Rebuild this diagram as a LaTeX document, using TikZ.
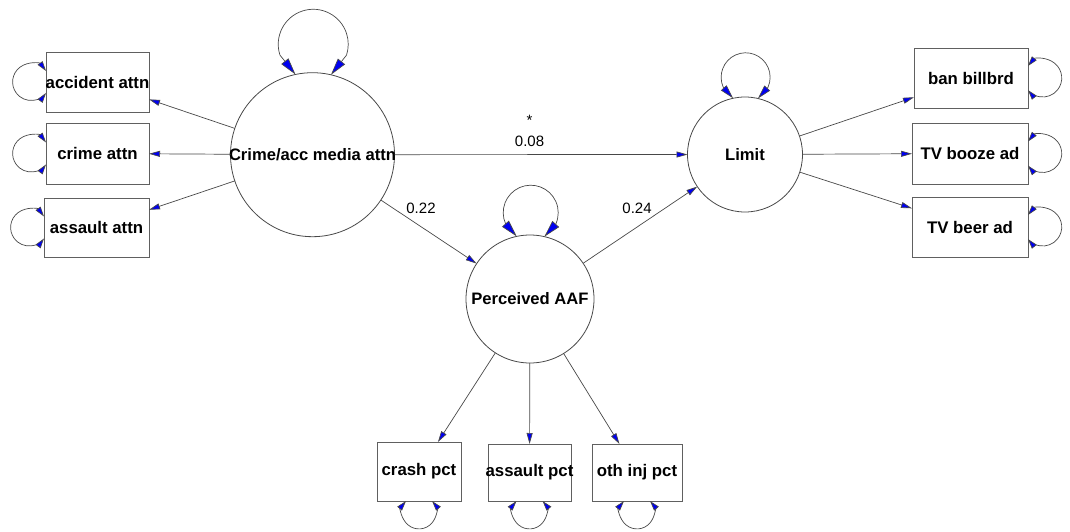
\documentclass[tikz,border=0pt]{standalone}
\usepackage{fontspec}
\setmainfont{Liberation Sans}
\usetikzlibrary{arrows.meta}
\definecolor{edgegray}{HTML}{484848}
\definecolor{boxgray}{HTML}{606060}
\definecolor{tipblue}{HTML}{0000F0}
\begin{document}
\begin{tikzpicture}[x=1pt,y=1pt,
  latent/.style={circle,draw=edgegray,line width=0.8pt,inner sep=0pt,outer sep=0pt,
    minimum size=#1,font=\fontsize{16.6}{19}\selectfont\bfseries},
  observed/.style 2 args={rectangle,draw=boxgray,line width=0.8pt,inner sep=0pt,outer sep=0pt,
    minimum width=#1,minimum height=#2,font=\fontsize{16.8}{19}\selectfont\bfseries},
  regarrow/.style={draw=edgegray,line width=0.7pt,line join=miter,
    -{Triangle[length=11pt,width=6pt,fill=tipblue]}},
  bigloop/.style={draw=edgegray,line width=0.7pt,line join=miter,
    {Triangle[length=17pt,width=9pt,fill=tipblue]}-{Triangle[length=17pt,width=9pt,fill=tipblue]}},
  midloop/.style={draw=edgegray,line width=0.7pt,line join=miter,
    {Triangle[length=14pt,width=7.5pt,fill=tipblue]}-{Triangle[length=14pt,width=7.5pt,fill=tipblue]}},
  boxloop/.style={draw=edgegray,line width=0.7pt,line join=miter,
    {Triangle[length=10pt,width=6pt,fill=tipblue]}-{Triangle[length=10pt,width=6pt,fill=tipblue]}},
  numlabel/.style={inner sep=0pt,font=\fontsize{15}{18}\selectfont}
]
\useasboundingbox (0,0) rectangle (1070,531);

% latent variables
\node[latent=164pt] (crime) at (312.5,376.3) {\makebox[0pt]{Crime/acc media attn}};
\node[latent=115pt] (limit) at (745,376.5) {\makebox[0pt]{Limit}};
\node[latent=128pt] (aaf) at (530,232) {\makebox[0pt]{Perceived AAF}};

% observed variables
\node[observed={103pt}{60pt}] (acc) at (97.5,449) {\makebox[0pt]{accident attn}};
\node[observed={103pt}{61pt}] (crimeattn) at (97.5,377.5) {\makebox[0pt]{crime attn}};
\node[observed={105pt}{59pt}] (assaultattn) at (96.5,303.5) {\makebox[0pt]{assault attn}};

\node[observed={114pt}{60pt}] (ban) at (971,453) {\makebox[0pt]{ban billbrd}};
\node[observed={116pt}{61pt}] (tvbooze) at (970,377.5) {\makebox[0pt]{TV booze ad}};
\node[observed={116pt}{60pt}] (tvbeer) at (970,304) {\makebox[0pt]{TV beer ad}};

\node[observed={84pt}{59pt}] (crash) at (419,59.5) {\makebox[0pt]{crash pct}};
\node[observed={83pt}{57pt}] (assaultpct) at (529.5,58.5) {\makebox[0pt]{assault pct}};
\node[observed={90pt}{57pt}] (oth) at (637,58.5) {\makebox[0pt]{oth inj pct}};

% structural paths
\draw[regarrow] (crime) -- (limit);
\draw[regarrow] (crime) -- (aaf);
\draw[regarrow] (aaf) -- (limit);

% measurement paths
\draw[regarrow] (crime) -- (acc);
\draw[regarrow] (crime) -- (crimeattn);
\draw[regarrow] (crime) -- (assaultattn);
\draw[regarrow] (limit) -- (ban);
\draw[regarrow] (limit) -- (tvbooze);
\draw[regarrow] (limit) -- (tvbeer);
\draw[regarrow] (aaf) -- (crash);
\draw[regarrow] (aaf) -- (assaultpct);
\draw[regarrow] (aaf) -- (oth);

% path labels
\node[numlabel] (star) at (529.5,411) {*};
\node[numlabel] (l08) at (529.5,390) {0.08};
\node[numlabel] (l22) at (421,323) {0.22};
\node[numlabel] (l24) at (637,323) {0.24};

% variances on latent variables
\draw[bigloop] (crime.102.3) -- ++(-15.5,19.4) arc[start angle=198,end angle=-18,radius=35] -- (crime.77.7);
\draw[midloop] (limit.102.5) -- ++(-9.8,11) arc[start angle=204,end angle=-24,radius=24.5] -- (limit.77.5);
\draw[bigloop] (aaf.102.6) -- ++(-11.1,12.5) arc[start angle=204,end angle=-24,radius=27.5] -- (aaf.77.4);

% variances on observed variables
\draw[boxloop] ([yshift=11pt]acc.west) arc[start angle=36.4,end angle=323.6,radius=18.5];
\draw[boxloop] ([yshift=11pt]crimeattn.west) arc[start angle=36.4,end angle=323.6,radius=18.5];
\draw[boxloop] ([yshift=11pt]assaultattn.west) arc[start angle=36.4,end angle=323.6,radius=18.5];

\draw[boxloop] ([yshift=12pt]ban.east) arc[start angle=140.8,end angle=-140.8,radius=19];
\draw[boxloop] ([yshift=12pt]tvbooze.east) arc[start angle=140.8,end angle=-140.8,radius=19];
\draw[boxloop] ([yshift=12pt]tvbeer.east) arc[start angle=140.8,end angle=-140.8,radius=19];

\draw[boxloop] ([xshift=-13pt]crash.south) arc[start angle=140,end angle=400,radius=17];
\draw[boxloop] ([xshift=-13pt]assaultpct.south) arc[start angle=140,end angle=400,radius=17];
\draw[boxloop] ([xshift=-13pt]oth.south) arc[start angle=140,end angle=400,radius=17];
\end{tikzpicture}
\end{document}
